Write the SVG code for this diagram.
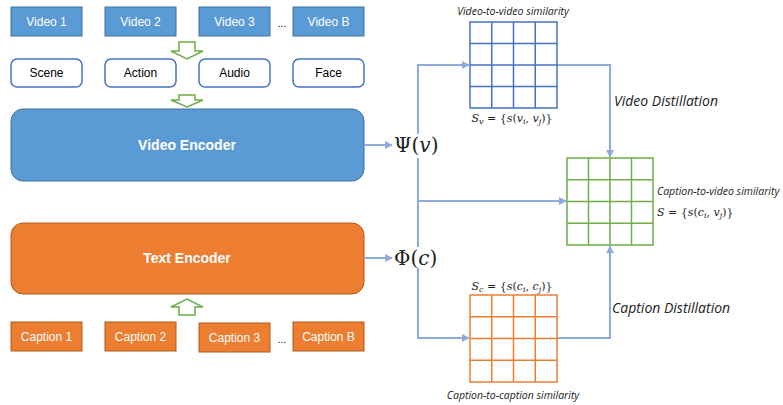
<svg xmlns="http://www.w3.org/2000/svg" width="783" height="405" viewBox="0 0 783 405">
  <defs>
    <style>
      .vid { fill: #5B9BD5; stroke: #41719C; stroke-width: 1; }
      .cap { fill: #ED7D31; stroke: #AE5A21; stroke-width: 1; }
      .feat { fill: #FFFFFF; stroke: #4472C4; stroke-width: 1.5; }
      .lbl { font-family: "Liberation Sans", Arial, sans-serif; font-size: 12px; text-anchor: middle; dominant-baseline: central; }
      .w { fill: #FFFFFF; }
      .k { fill: #000000; }
      .enc { font-family: "Liberation Sans", Arial, sans-serif; font-size: 14px; font-weight: bold; fill: #FFFFFF; text-anchor: middle; dominant-baseline: central; }
      .hollow { fill: #FFFFFF; stroke: #70AD47; stroke-width: 1.5; stroke-linejoin: miter; }
      .conn { fill: none; stroke: #8FAADC; stroke-width: 2; }
      .it { font-family: "Open Sans", "Liberation Sans", sans-serif; font-style: italic; fill: #222; }
      .math { font-family: "DejaVu Serif", "Liberation Serif", serif; fill: #222; }
      .gridB { fill: #FFFFFF; stroke: #4472C4; stroke-width: 1.5; }
      .gridG { fill: #FFFFFF; stroke: #70AD47; stroke-width: 1.5; }
      .gridO { fill: #FFFFFF; stroke: #ED7D31; stroke-width: 1.5; }
    </style>
    <marker id="ah" viewBox="0 0 10 10" refX="9" refY="5" markerWidth="4" markerHeight="4" orient="auto">
      <path d="M0,0 L10,5 L0,10 z" fill="#8FAADC"/>
    </marker>
  </defs>

  <!-- video clips -->
  <g id="video1"><rect class="vid" x="11" y="7" width="71" height="29"/><text class="lbl w" x="46.5" y="21.5">Video 1</text></g>
  <g id="video2"><rect class="vid" x="105" y="7" width="71" height="29"/><text class="lbl w" x="140.5" y="21.5">Video 2</text></g>
  <g id="video3"><rect class="vid" x="199" y="7" width="71" height="29"/><text class="lbl w" x="234.5" y="21.5">Video 3</text></g>
  <g id="videoB"><rect class="vid" x="293" y="7" width="71" height="29"/><text class="lbl w" x="328.5" y="21.5">Video B</text></g>
  <text class="lbl k" x="282" y="23" style="font-size:10px">...</text>

  <!-- hollow flow arrows -->
  <g id="flow-down-1"><polygon class="hollow" points="179,42 195,42 195,51 203,51 187,59 171,51 179,51"/></g>

  <!-- expert features -->
  <g id="scene"><rect class="feat" x="11" y="59" width="71" height="28" rx="6"/><text class="lbl k" x="46.5" y="73">Scene</text></g>
  <g id="action"><rect class="feat" x="105" y="59" width="71" height="28" rx="6"/><text class="lbl k" x="140.5" y="73">Action</text></g>
  <g id="audio"><rect class="feat" x="199" y="59" width="71" height="28" rx="6"/><text class="lbl k" x="234.5" y="73">Audio</text></g>
  <g id="face"><rect class="feat" x="293" y="59" width="71" height="28" rx="6"/><text class="lbl k" x="328.5" y="73">Face</text></g>

  <g id="flow-down-2"><polygon class="hollow" points="179,95 195,95 195,100 203,100 187,107 171,100 179,100"/></g>

  <!-- encoders -->
  <g id="video-encoder"><rect class="vid" x="11" y="109" width="353" height="72" rx="12"/><text class="enc" x="187" y="145">Video Encoder</text></g>
  <g id="text-encoder"><rect class="cap" x="11" y="223" width="353" height="71" rx="12"/><text class="enc" x="187" y="258">Text Encoder</text></g>

  <g id="flow-up"><polygon class="hollow" points="179,315 195,315 195,307 203,307 187,299 171,307 179,307"/></g>

  <!-- captions -->
  <g id="caption1"><rect class="cap" x="11" y="322" width="71" height="29"/><text class="lbl w" x="46.5" y="336.5">Caption 1</text></g>
  <g id="caption2"><rect class="cap" x="105" y="322" width="71" height="29"/><text class="lbl w" x="140.5" y="336.5">Caption 2</text></g>
  <g id="caption3"><rect class="cap" x="199" y="323" width="71" height="29"/><text class="lbl w" x="234.5" y="338">Caption 3</text></g>
  <g id="captionB"><rect class="cap" x="293" y="322" width="71" height="29"/><text class="lbl w" x="328.5" y="336.5">Caption B</text></g>
  <text class="lbl k" x="282" y="339" style="font-size:10px">...</text>

  <!-- embeddings -->
  <g id="psi"><text class="math" x="394" y="152" style="font-size:20px">Ψ(<tspan font-style="italic">v</tspan>)</text></g>
  <g id="phi"><text class="math" x="394" y="265" style="font-size:20px">Φ(<tspan font-style="italic">c</tspan>)</text></g>

  <!-- connectors -->
  <g id="connectors">
    <line class="conn" x1="364" y1="145" x2="392" y2="145" marker-end="url(#ah)"/>
    <line class="conn" x1="364" y1="258" x2="392" y2="258" marker-end="url(#ah)"/>
    <polyline class="conn" points="418,134 418,65 469,65" marker-end="url(#ah)"/>
    <line class="conn" x1="418" y1="158" x2="418" y2="247"/>
    <line class="conn" x1="418" y1="201" x2="566" y2="201" marker-end="url(#ah)"/>
    <polyline class="conn" points="418,268 418,338 469,338" marker-end="url(#ah)"/>
    <polyline class="conn" points="557,65 610,65 610,157" marker-end="url(#ah)"/>
    <polyline class="conn" points="557,338 610,338 610,246" marker-end="url(#ah)"/>
  </g>

  <!-- video-to-video similarity matrix -->
  <g id="video-sim">
    <rect class="gridB" x="470" y="22" width="87" height="86"/>
    <path class="gridB" d="M491.75,22V108M513.5,22V108M535.25,22V108M470,43.5H557M470,65H557M470,86.5H557"/>
    <text class="it" x="513" y="15" text-anchor="middle" style="font-size:10.5px">Video-to-video similarity</text>
    <text class="math" x="512" y="122" text-anchor="middle" style="font-size:11px"><tspan font-style="italic">S</tspan><tspan font-style="italic" font-size="8px" dy="2">v</tspan><tspan dy="-2"> = {</tspan><tspan font-style="italic">s</tspan>(<tspan font-style="italic">v</tspan><tspan font-style="italic" font-size="8px" dy="2">i</tspan><tspan dy="-2">, </tspan><tspan font-style="italic">v</tspan><tspan font-style="italic" font-size="8px" dy="2">j</tspan><tspan dy="-2">)}</tspan></text>
  </g>
  <text class="it" x="614" y="106" style="font-size:14px">Video Distillation</text>

  <!-- caption-to-video similarity matrix -->
  <g id="cross-sim">
    <rect class="gridG" x="567" y="158" width="86" height="87"/>
    <path class="gridG" d="M588.5,158V245M610,158V245M631.5,158V245M567,179.75H653M567,201.5H653M567,223.25H653"/>
    <text class="it" x="657" y="195" style="font-size:10.5px">Caption-to-video similarity</text>
    <text class="math" x="657" y="216" style="font-size:11px"><tspan font-style="italic">S</tspan> = {<tspan font-style="italic">s</tspan>(<tspan font-style="italic">c</tspan><tspan font-style="italic" font-size="8px" dy="2">i</tspan><tspan dy="-2">, </tspan><tspan font-style="italic">v</tspan><tspan font-style="italic" font-size="8px" dy="2">j</tspan><tspan dy="-2">)}</tspan></text>
  </g>

  <!-- caption-to-caption similarity matrix -->
  <g id="caption-sim">
    <rect class="gridO" x="470" y="295" width="87" height="87"/>
    <path class="gridO" d="M491.75,295V382M513.5,295V382M535.25,295V382M470,316.75H557M470,338.5H557M470,360.25H557"/>
    <text class="math" x="512" y="290" text-anchor="middle" style="font-size:11px"><tspan font-style="italic">S</tspan><tspan font-style="italic" font-size="8px" dy="2">c</tspan><tspan dy="-2"> = {</tspan><tspan font-style="italic">s</tspan>(<tspan font-style="italic">c</tspan><tspan font-style="italic" font-size="8px" dy="2">i</tspan><tspan dy="-2">, </tspan><tspan font-style="italic">c</tspan><tspan font-style="italic" font-size="8px" dy="2">j</tspan><tspan dy="-2">)}</tspan></text>
    <text class="it" x="513" y="399" text-anchor="middle" style="font-size:10.5px">Caption-to-caption similarity</text>
  </g>
  <text class="it" x="612" y="313" style="font-size:14px">Caption Distillation</text>
</svg>
